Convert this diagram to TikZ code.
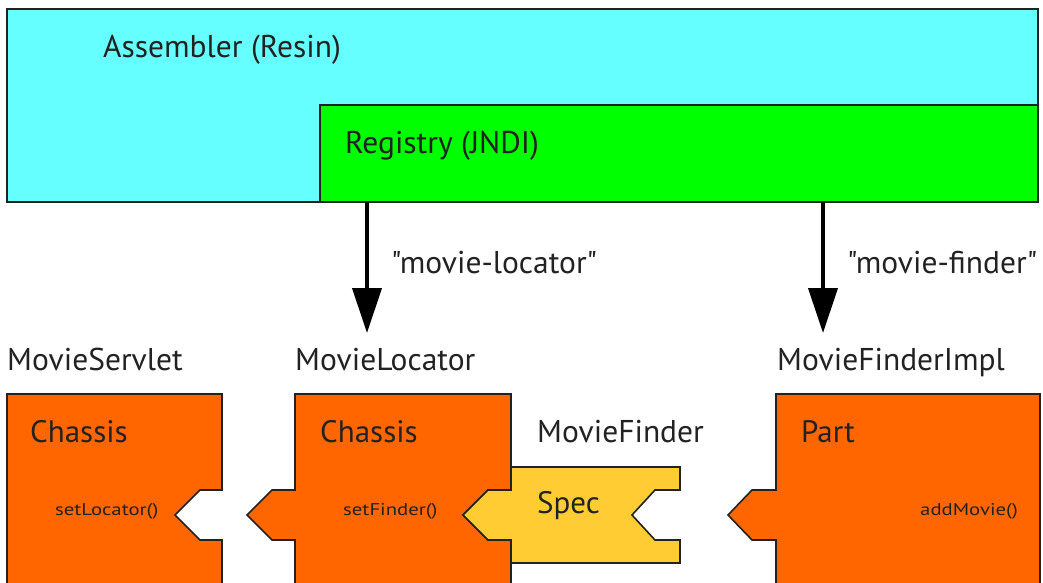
\documentclass[tikz,border=0pt]{standalone}
\usepackage{fontspec}
\setmainfont{PT Sans}[Ligatures=TeXOff]
\usetikzlibrary{arrows.meta}
\definecolor{asmcyan}{HTML}{66FFFF}
\definecolor{reggreen}{HTML}{00FF00}
\definecolor{partorange}{HTML}{FF6600}
\definecolor{specyellow}{HTML}{FFCC33}
\definecolor{ink}{HTML}{222222}
\newcommand{\sq}{\symbol{34}}
\newcommand{\narrow}[1]{\scalebox{1.22}[1]{#1}}
\tikzset{
  outline/.style={draw=ink, line width=1.6pt, line join=miter},
  lbl/.style={anchor=base west, inner sep=0pt, text=ink, font=\fontsize{31.5}{36}\selectfont},
  big/.style={lbl, font=\fontsize{31}{36}\selectfont},
  small/.style={lbl, font=\fontsize{17}{20}\selectfont},
  lookup/.style={line width=4pt, draw=black, -{Triangle[length=45pt,width=29pt]}}
}
\begin{document}
\begin{tikzpicture}[x=1pt, y=-1pt]
\useasboundingbox (0,0) rectangle (1043,583);
\clip (0,0) rectangle (1043,583);

% container and registry
\draw[outline, fill=asmcyan] (7,9) rectangle (1038,202);
\draw[outline, fill=reggreen] (320,105) rectangle (1038,202);
\node[lbl] (asm) at (103,58) {Assembler (Resin)};
\node[lbl] (reg) at (345,153) {Registry (JNDI)};

% lookups from the registry
\coordinate (srcLoc) at (367,202);
\coordinate (dstLoc) at (367,333);
\coordinate (srcFind) at (823,202);
\coordinate (dstFind) at (823,333);
\draw[lookup] (srcLoc) -- (dstLoc);
\draw[lookup] (srcFind) -- (dstFind);
\node[lbl] (keyLoc) at (391,273) {\sq movie-locator\sq};
\node[lbl] (keyFind) at (847,273) {\sq movie-finder\sq};

% component names
\node[lbl] (servlet) at (7,370) {MovieServlet};
\node[lbl] (locator) at (295,370) {MovieLocator};
\node[lbl] (impl) at (777,370) {MovieFinderImpl};
\node[lbl] (finder) at (537,442) {MovieFinder};

% MovieServlet chassis with a socket on the right
\draw[outline, fill=partorange] (7,394) -- (222,394) -- (222,490) -- (200,490) -- (175,515)
  -- (200,540) -- (222,540) -- (222,600) -- (7,600) -- cycle;

% MovieLocator chassis: plug on the left, socket on the right
\draw[outline, fill=partorange] (295,394) -- (511,394) -- (511,490) -- (488,490) -- (463,515)
  -- (488,540) -- (511,540) -- (511,600) -- (295,600) -- (295,540) -- (272,540)
  -- (247,515) -- (272,490) -- (295,490) -- cycle;

% MovieFinder spec plugged into the locator
\draw[outline, fill=specyellow] (511,467) -- (680,467) -- (680,490) -- (655,490) -- (632,515)
  -- (655,540) -- (680,540) -- (680,563) -- (511,563) -- (511,540) -- (488,540)
  -- (463,515) -- (488,490) -- (511,490) -- cycle;

% MovieFinderImpl part with a plug on the left
\draw[outline, fill=partorange] (776,394) -- (1040,394) -- (1040,600) -- (776,600) -- (776,540)
  -- (752,540) -- (728,515) -- (752,490) -- (776,490) -- cycle;

% texts inside the parts
\node[big] (ch1) at (30,442) {Chassis};
\node[big] (ch2) at (320,442) {Chassis};
\node[big] (part) at (801,442) {Part};
\node[big] (spec) at (537,513) {Spec};
\node[small] (setLoc) at (55,515) {\narrow{setLocator()}};
\node[small] (setFind) at (343,515) {\narrow{setFinder()}};
\node[small] (addMov) at (920,515) {\narrow{addMovie()}};
\end{tikzpicture}
\end{document}
